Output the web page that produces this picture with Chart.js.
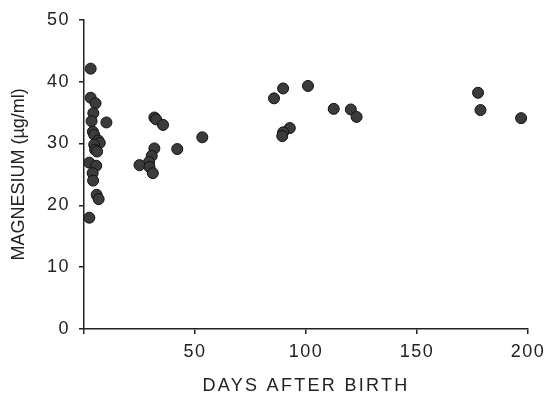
<!DOCTYPE html>
<html>
<head>
<meta charset="utf-8">
<script src="https://cdn.jsdelivr.net/npm/chart.js@4"></script>
<style>
  html, body { margin: 0; padding: 0; background: #fff; }
</style>
</head>
<body>
<canvas id="mgChart" width="550" height="403"></canvas>
<script>
// days after birth / serum magnesium (ug/ml)
var days = [3.0, 3.0, 5.2, 4.2, 3.4, 10.1, 4.0, 4.6, 6.4, 7.1, 4.6, 5.0, 5.9, 2.4, 5.5, 3.9, 4.1, 5.7, 6.6, 2.4,
            31.7, 32.5, 35.6, 53.3, 42.0, 31.7, 30.5, 29.3, 25.0, 29.5, 31.0,
            85.6, 89.7, 100.9, 112.5, 120.2, 122.8, 92.7, 89.7, 89.3,
            177.5, 178.6, 196.9];
var magnesium = [42.1, 37.4, 36.5, 34.9, 33.6, 33.4, 31.9, 31.4, 30.5, 30.1, 29.8, 29.0, 28.7, 26.9, 26.4, 25.2, 24.0, 21.7, 21.0, 18.0,
                 34.2, 33.9, 33.0, 31.0, 29.1, 29.2, 28.0, 27.0, 26.5, 26.2, 25.2,
                 37.3, 38.9, 39.3, 35.6, 35.5, 34.3, 32.5, 31.8, 31.2,
                 38.2, 35.4, 34.1];
var xTicks = [0, 50, 100, 150, 200];
var yTicks = [0, 10, 20, 30, 40, 50];

var points = [];
for (var i = 0; i < days.length; i++) {
  points.push({ x: days[i], y: magnesium[i] });
}

// the scan has wide letter spacing on the x text, none on the y title
function spacedTitle(scale, gap) {
  var orig = scale.drawTitle;
  scale.drawTitle = function () {
    var c = this.ctx;
    var old = c.letterSpacing;
    c.letterSpacing = gap;
    orig.apply(this, arguments);
    c.letterSpacing = old;
  };
}

var spacing = {
  id: 'spacing',
  afterLayout: function (chart) {
    if (chart._patched) return;
    spacedTitle(chart.scales.x, '2.3px');
    spacedTitle(chart.scales.y, '0px');
    chart._patched = true;
  },
  beforeDraw: function (chart) {
    chart.ctx.letterSpacing = '1.5px';
  }
};

var ink = '#222222';
var font = { family: 'Liberation Sans', size: 18 };

var ctx = document.getElementById('mgChart').getContext('2d');
var chart = new Chart(ctx, {
  type: 'scatter',
  data: {
    datasets: [{
      data: points,
      backgroundColor: '#3b3b3b',
      borderColor: '#111111',
      borderWidth: 1,
      pointRadius: 5.5
    }]
  },
  options: {
    responsive: false,
    animation: false,
    layout: { padding: { left: 0, right: 18, top: 15, bottom: 0 } },
    plugins: { legend: { display: false }, tooltip: { enabled: false } },
    scales: {
      x: {
        type: 'linear',
        min: 0,
        max: 200,
        afterBuildTicks: function (axis) {
          axis.ticks = xTicks.map(function (v) { return { value: v }; });
        },
        afterFit: function (axis) { axis.height = 74; },
        grid: { display: true, drawOnChartArea: false, drawTicks: true, tickLength: 5, color: ink, lineWidth: 1.5 },
        border: { display: true, color: ink, width: 1.5 },
        ticks: {
          color: ink,
          font: font,
          padding: 7,
          maxRotation: 0,
          callback: function (v) { return v === 0 ? '' : v; }
        },
        title: {
          display: true,
          text: 'DAYS AFTER BIRTH',
          color: ink,
          font: font,
          padding: { top: 4, bottom: 6 }
        }
      },
      y: {
        type: 'linear',
        min: 0,
        max: 50,
        afterBuildTicks: function (axis) {
          axis.ticks = yTicks.map(function (v) { return { value: v }; });
        },
        afterFit: function (axis) { axis.width = 84; },
        grid: { display: true, drawOnChartArea: false, drawTicks: true, tickLength: 5, color: ink, lineWidth: 1.5 },
        border: { display: true, color: ink, width: 1.5 },
        ticks: { color: ink, font: font, padding: 9 },
        title: {
          display: true,
          text: 'MAGNESIUM (µg/ml)',
          color: ink,
          font: font,
          padding: { top: 8, bottom: 4 }
        }
      }
    }
  },
  plugins: [spacing]
});
</script>
</body>
</html>
